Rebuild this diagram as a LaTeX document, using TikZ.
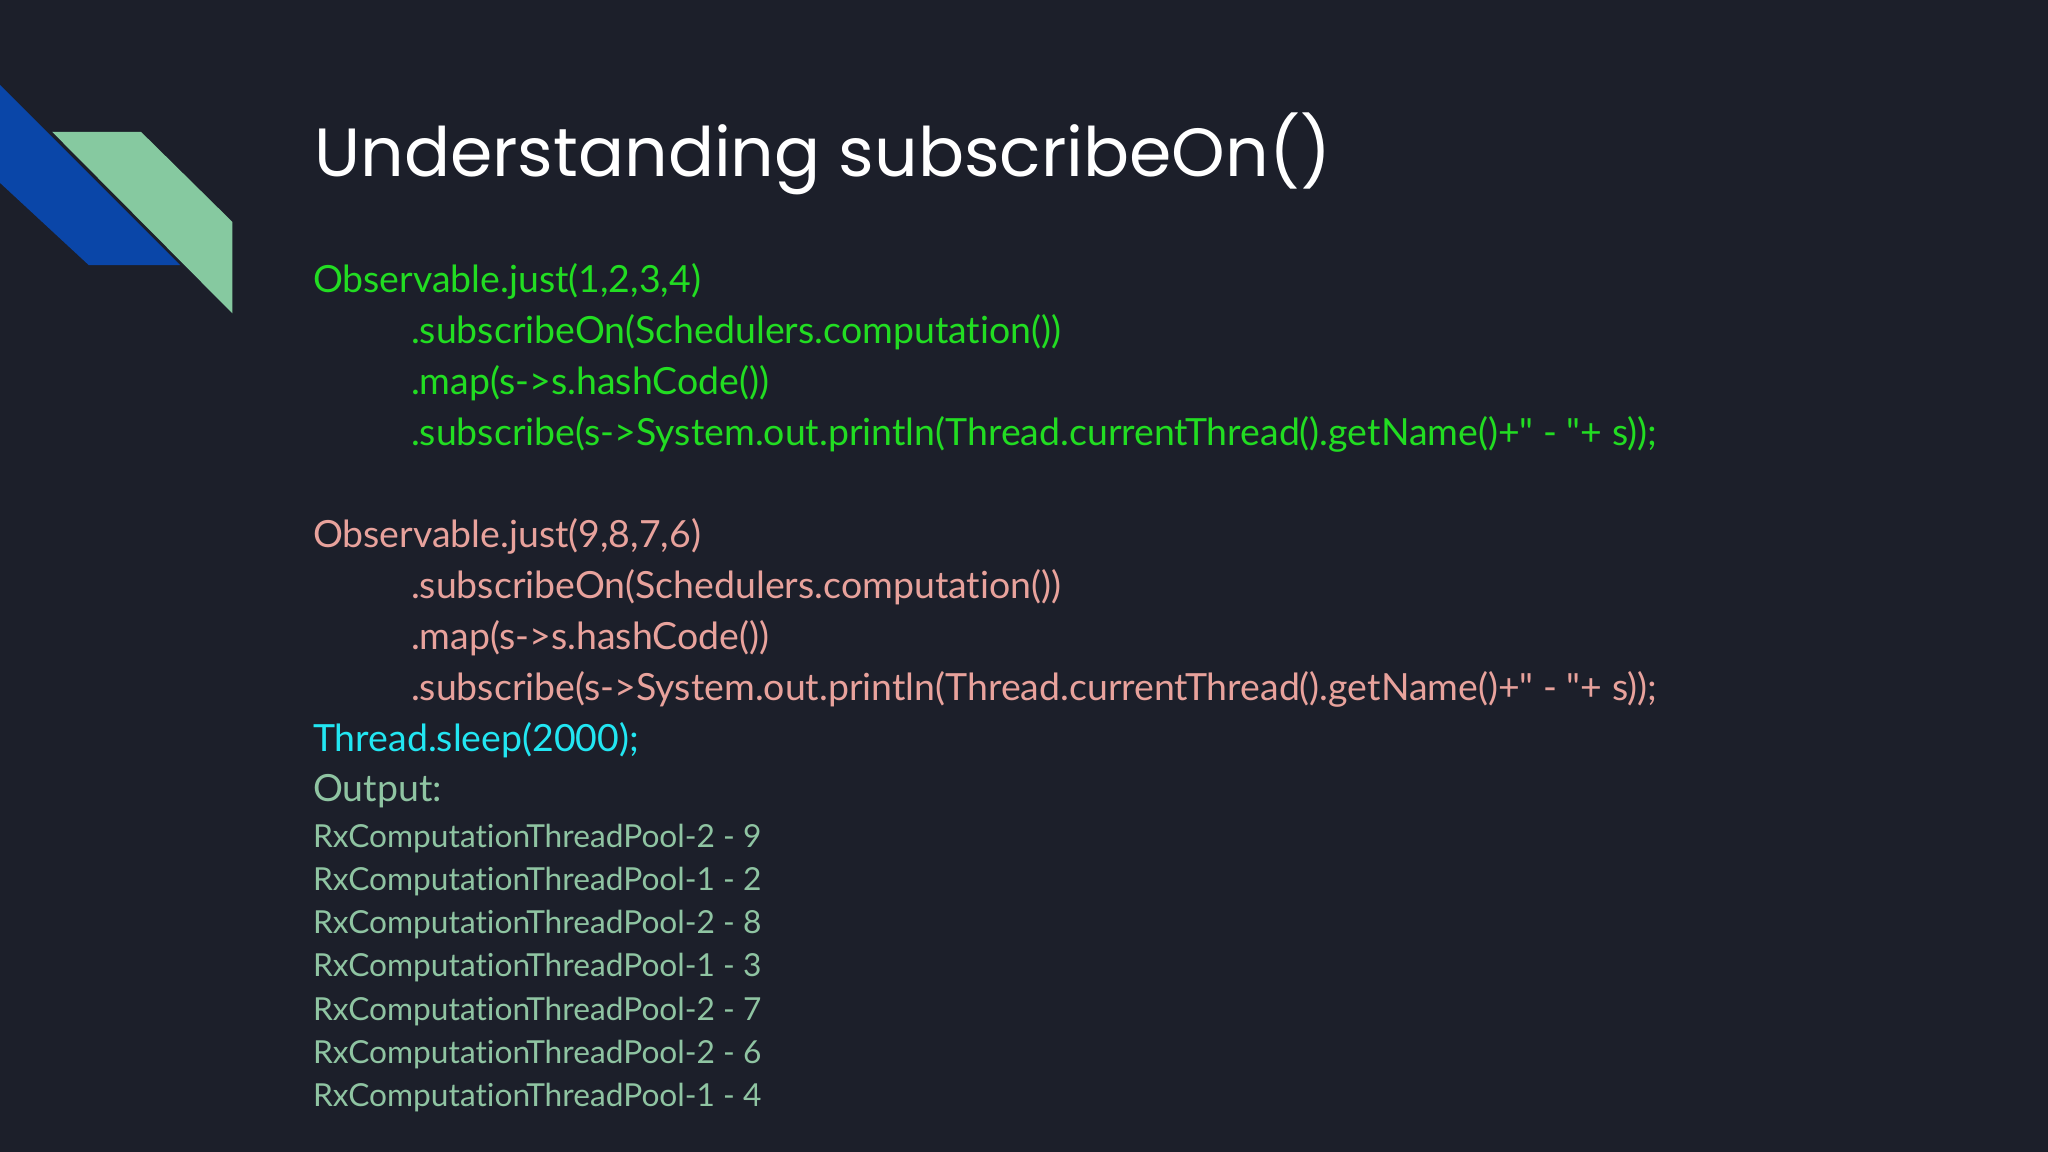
\documentclass[tikz,border=0pt]{standalone}
\usepackage{fontspec}
\setmainfont{Lato}[Ligatures={NoCommon,TeXOff}]
\newfontfamily\titlefont{Poppins}
\definecolor{bg}{HTML}{1C1F2A}
\definecolor{cgreen}{HTML}{22DD22}
\definecolor{cpink}{HTML}{E8A29C}
\definecolor{ccyan}{HTML}{22E6F2}
\definecolor{cout}{HTML}{8FC4A2}
\definecolor{cblue}{HTML}{0A46A8}
\definecolor{cmint}{HTML}{86C9A0}
\newcommand{\dq}{\symbol{"22}}
\begin{document}
\begin{tikzpicture}[x=0.01cm,y=-0.01cm,
  t/.style={anchor=base west,inner sep=0,font=\fontsize{8.15pt}{9pt}\selectfont},
  o/.style={anchor=base west,inner sep=0,font=\fontsize{6.9pt}{8pt}\selectfont,text=cout}]
\fill[bg] (0,0) rectangle (1568,882);
\fill[cblue] (0,65) -- (138,203) -- (68,203) -- (0,140) -- cycle;
\fill[cmint] (40,101) -- (108,101) -- (178,170) -- (178,240) -- cycle;
\node[anchor=base west,inner sep=0,text=white,font=\titlefont\fontsize{14.85pt}{18pt}\selectfont] (title) at (240,135) {Understanding subscribeOn()};
\node[t,text=cgreen] (a1) at (239,224) {Observable.just(1,2,3,4)};
\node[t,text=cgreen] (a2) at (314,263) {.subscribeOn(Schedulers.computation())};
\node[t,text=cgreen] (a3) at (314,302) {.map(s->s.hashCode())};
\node[t,text=cgreen] (a4) at (314,341) {.subscribe(s->System.out.println(Thread.currentThread().getName()+\dq{} - \dq+ s));};
\node[t,text=cpink] (b1) at (239,419) {Observable.just(9,8,7,6)};
\node[t,text=cpink] (b2) at (314,458) {.subscribeOn(Schedulers.computation())};
\node[t,text=cpink] (b3) at (314,497) {.map(s->s.hashCode())};
\node[t,text=cpink] (b4) at (314,536) {.subscribe(s->System.out.println(Thread.currentThread().getName()+\dq{} - \dq+ s));};
\node[t,text=ccyan] (c1) at (239,575) {Thread.sleep(2000);};
\node[t,text=cout] (d0) at (239,614) {Output:};
\node[o] (o1) at (239,649) {RxComputationThreadPool-2 - 9};
\node[o] (o2) at (239,682) {RxComputationThreadPool-1 - 2};
\node[o] (o3) at (239,715) {RxComputationThreadPool-2 - 8};
\node[o] (o4) at (239,748) {RxComputationThreadPool-1 - 3};
\node[o] (o5) at (239,781) {RxComputationThreadPool-2 - 7};
\node[o] (o6) at (239,814) {RxComputationThreadPool-2 - 6};
\node[o] (o7) at (239,847) {RxComputationThreadPool-1 - 4};
\end{tikzpicture}
\end{document}
